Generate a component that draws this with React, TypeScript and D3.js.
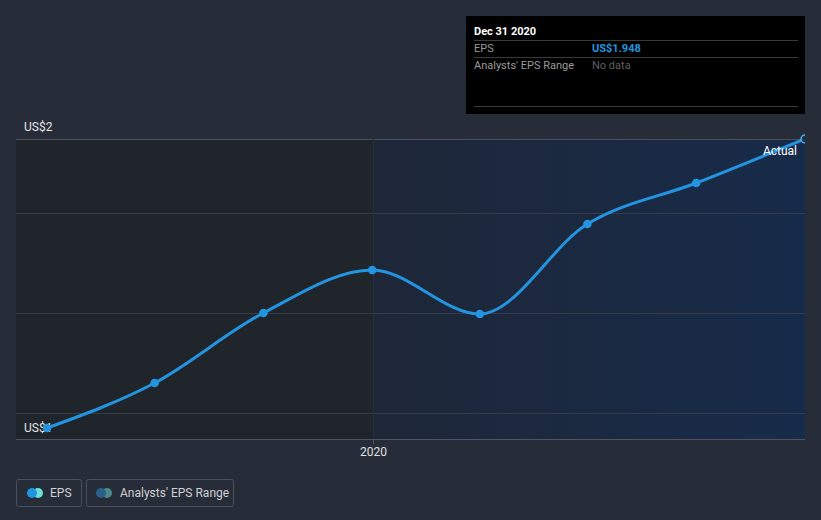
import React from "react";
import * as d3 from "d3";

const dates = ["2019-03-31", "2019-06-30", "2019-09-30", "2019-12-31", "2020-03-31", "2020-06-30", "2020-09-30", "2020-12-31"];
const epsValues = [1.37, 1.46, 1.6, 1.686, 1.598, 1.778, 1.86, 1.948];
const gridValues = [1.4, 1.6, 1.8];
const yLabels = ["US$2", "US$1"];
const xTickLabels = ["2020"];

const W = 821;
const H = 520;
const FONT = "Roboto, 'Open Sans', sans-serif";

export default function App() {
  const parse = d3.timeParse("%Y-%m-%d");
  const data = dates.map((d, i) => ({ date: parse(d) as Date, v: epsValues[i] }));
  const left = 16, right = 805, top = 139, bottom = 439;
  const xs = d3.scaleTime().domain([parse("2019-03-31") as Date, parse("2020-12-31") as Date]).range([47, 805]);
  const y = d3.scaleLinear().domain([1.348, 1.948]).range([bottom, top]);
  const line = d3.line<{ date: Date; v: number }>().x(d => xs(d.date)).y(d => y(d.v)).curve(d3.curveMonotoneX);
  const x2020 = Math.round(xs(parse("2020-01-01") as Date)) + 0.5;
  const last = data[data.length - 1];

  return (
    <svg width={W} height={H} style={{ position: "absolute", left: 0, top: 0, background: "#262c38" }}>
      <defs>
        <linearGradient id="fut" x1="0" x2="1" y1="0" y2="0">
          <stop offset="0" stopColor="#1e2738" />
          <stop offset="1" stopColor="#172b4a" />
        </linearGradient>
        <clipPath id="plot"><rect x={left} y={0} width={right - left} height={bottom} /></clipPath>
      </defs>
      <rect x={0} y={0} width={W} height={H} fill="#262c38" />
      <rect x={left} y={top} width={x2020 - left} height={bottom - top} fill="#20242b" />
      <rect x={x2020} y={top} width={right - x2020} height={bottom - top} fill="url(#fut)" />
      <line x1={left} x2={right} y1={top + 0.5} y2={top + 0.5} stroke="#4a505c" strokeWidth={1} />
      {gridValues.map(g => (
        <line key={g} x1={left} x2={right} y1={Math.round(y(g)) + 0.5} y2={Math.round(y(g)) + 0.5} stroke="#363c48" strokeWidth={1} />
      ))}
      <line x1={x2020} x2={x2020} y1={top} y2={bottom} stroke="#262f3e" strokeWidth={1} />
      <line x1={left} x2={right} y1={bottom + 0.5} y2={bottom + 0.5} stroke="#4e5460" strokeWidth={1} />
      <line x1={x2020} x2={x2020} y1={bottom} y2={bottom + 5} stroke="#4e5460" strokeWidth={1} />
      <text x={x2020} y={456} fill="#e0e0e0" fontSize={12} fontFamily={FONT} textAnchor="middle">{xTickLabels[0]}</text>
      <text x={24} y={131} fill="#e6e6e6" fontSize={12} fontFamily={FONT}>{yLabels[0]}</text>
      <text x={24} y={432} fill="#e6e6e6" fontSize={12} fontFamily={FONT}>{yLabels[1]}</text>
      <g clipPath="url(#plot)">
        <path d={line(data) || ""} fill="none" stroke="#2394df" strokeWidth={3} />
        {data.slice(0, -1).map((d, i) => (
          <circle key={i} cx={xs(d.date)} cy={y(d.v)} r={4.3} fill="#2394df" />
        ))}
        <circle cx={xs(last.date)} cy={y(last.v)} r={4} fill="#1e3350" stroke="#4fb0ee" strokeWidth={1.5} />
      </g>
      <text x={797} y={155} fill="#ffffff" fontSize={12} fontFamily={FONT} textAnchor="end">Actual</text>

      <rect x={466} y={16} width={339} height={98} fill="#000000" />
      <text x={474} y={35} fill="#ffffff" fontSize={11} fontWeight="bold" fontFamily={FONT}>Dec 31 2020</text>
      <line x1={474} x2={798} y1={40.5} y2={40.5} stroke="#3a3a3a" />
      <text x={474} y={52} fill="#9a9a9a" fontSize={11} fontFamily={FONT}>EPS</text>
      <text x={592} y={52} fill="#2394df" fontSize={11} fontWeight="bold" fontFamily={FONT}>US$1.948</text>
      <line x1={474} x2={798} y1={57.5} y2={57.5} stroke="#3a3a3a" />
      <text x={474} y={69} fill="#9a9a9a" fontSize={11} fontFamily={FONT}>Analysts' EPS Range</text>
      <text x={592} y={69} fill="#5f5f5f" fontSize={11} fontFamily={FONT}>No data</text>
      <line x1={474} x2={798} y1={106.5} y2={106.5} stroke="#3a3a3a" />

      <rect x={16.5} y={479.5} width={65} height={27} rx={2} fill="none" stroke="#4a505c" />
      <circle cx={38} cy={493} r={5} fill="#6ae0d8" />
      <circle cx={32} cy={493} r={5} fill="#2394df" />
      <text x={50} y={497} fill="#d0d0d0" fontSize={12} fontFamily={FONT}>EPS</text>
      <rect x={86.5} y={479.5} width={147} height={27} rx={2} fill="none" stroke="#4a505c" />
      <circle cx={107} cy={493} r={5} fill="#4a8a8a" />
      <circle cx={101} cy={493} r={5} fill="#2a5f8a" />
      <text x={120} y={497} fill="#d0d0d0" fontSize={12} fontFamily={FONT}>Analysts' EPS Range</text>
    </svg>
  );
}
